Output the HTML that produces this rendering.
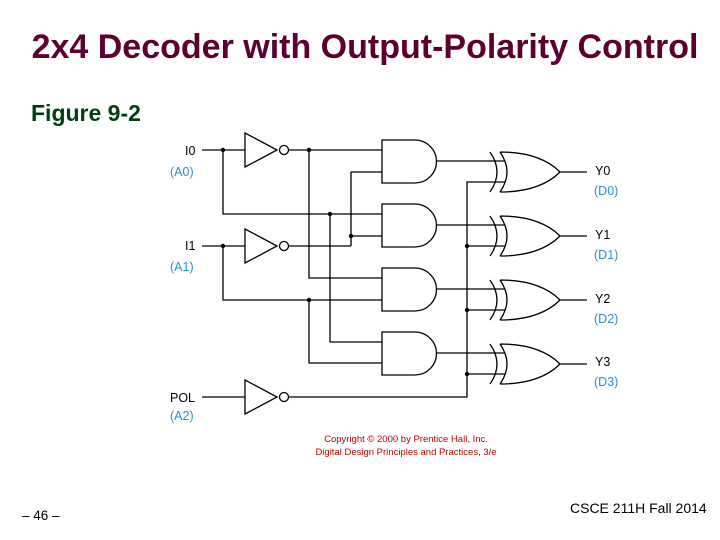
<!DOCTYPE html>
<html><head><style>
body{margin:0;width:720px;height:540px;background:#fff;overflow:hidden;position:relative;font-family:"Liberation Sans",sans-serif}
.t{position:absolute;white-space:nowrap}
</style></head><body>
<div class="t" style="left:0;width:730px;text-align:center;top:28px;font-size:34px;font-weight:bold;color:#5c0030">2x4 Decoder with Output-Polarity Control</div>
<div class="t" style="left:31px;top:100px;font-size:23px;font-weight:bold;color:#004010">Figure 9-2</div>
<div class="t" style="left:22px;top:508px;font-size:13.5px">– 46 –</div>
<div class="t" style="left:570px;top:500px;font-size:14px">CSCE 211H Fall 2014</div>
<svg width="720" height="540" style="position:absolute;left:0;top:0" font-family="Liberation Sans, sans-serif">
<g stroke="#000" stroke-width="1.3" fill="none">
<path d="M202,150H245M245,133L277,150L245,167Z M288,150H382"/>
<circle cx="284" cy="150" r="4.5" fill="#fff"/>
<path d="M202,246H245M245,229L277,246L245,263Z M288,246H351"/>
<circle cx="284" cy="246" r="4.5" fill="#fff"/>
<path d="M202,397H245M245,380L277,397L245,414Z M288,397H467V182H505"/>
<circle cx="284" cy="397" r="4.5" fill="#fff"/>
<path d="M223,150V214H382"/>
<path d="M309,150V278H382"/>
<path d="M351,172H382M351,172V246M351,236H382"/>
<path d="M223,246V300H382"/>
<path d="M309,300V363H382"/>
<path d="M330,214V342H382"/>
<path d="M467,246H505M467,310H505M467,374H505"/>
<path d="M382,140H415A21.5,21.5 0 0 1 415,183H382Z M437,161H505"/>
<path d="M382,204H415A21.5,21.5 0 0 1 415,247H382Z M437,225H505"/>
<path d="M382,268H415A21.5,21.5 0 0 1 415,311H382Z M437,289H505"/>
<path d="M382,332H415A21.5,21.5 0 0 1 415,375H382Z M437,353H505"/>
<g id="x">
<path d="M490,152Q504,172 490,192 M500,152Q514,172 500,192 M500,152Q540,152 560,172Q540,192 500,192 M560,172H587"/>
</g>
<use href="#x" y="64"/><use href="#x" y="128"/><use href="#x" y="192"/>
</g>
<g fill="#000">
<circle cx="223" cy="150" r="2.2"/><circle cx="309" cy="150" r="2.2"/>
<circle cx="330" cy="214" r="2.2"/><circle cx="351" cy="236" r="2.2"/>
<circle cx="223" cy="246" r="2.2"/><circle cx="309" cy="300" r="2.2"/>
<circle cx="467" cy="246" r="2.2"/><circle cx="467" cy="310" r="2.2"/><circle cx="467" cy="374" r="2.2"/>
</g>
<g font-size="12.5" fill="#000">
<text x="185" y="155">I0</text><text x="185" y="250">I1</text><text x="170" y="402">POL</text>
<text x="595" y="175">Y0</text><text x="595" y="239">Y1</text><text x="595" y="303">Y2</text><text x="595" y="366">Y3</text>
</g>
<g font-size="12.5" fill="#2a8fd0">
<text x="170" y="176">(A0)</text><text x="170" y="271">(A1)</text><text x="170" y="420">(A2)</text>
<text x="594" y="195">(D0)</text><text x="594" y="259">(D1)</text><text x="594" y="323">(D2)</text><text x="594" y="386">(D3)</text>
</g>
<g font-size="9.5" fill="#c00000" text-anchor="middle">
<text x="406" y="442">Copyright © 2000 by Prentice Hall, Inc.</text>
<text x="406" y="455">Digital Design Principles and Practices, 3/e</text>
</g>
</svg>
</body></html>
